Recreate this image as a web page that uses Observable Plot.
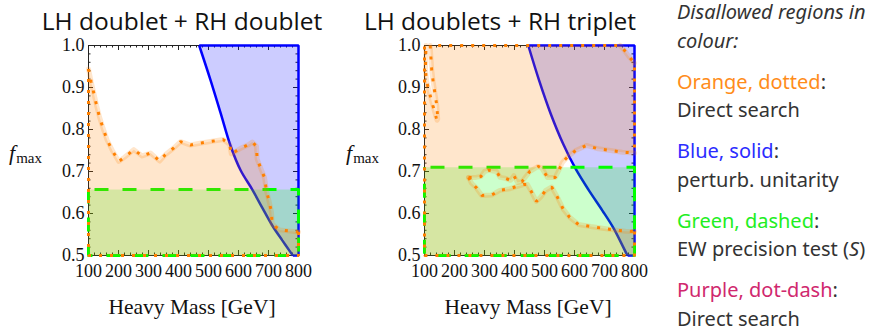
<!DOCTYPE html>
<html><head><meta charset="utf-8">
<script src="https://cdn.jsdelivr.net/npm/d3@7"></script>
<script src="https://cdn.jsdelivr.net/npm/@observablehq/plot@0.6"></script>
<style>
body{margin:0;background:#fff;width:882px;height:326px;overflow:hidden;position:relative;font-family:"Noto Sans",sans-serif}
.abs{position:absolute;white-space:nowrap}
.title{font-family:"Open Sans","Noto Sans",sans-serif;font-size:24.5px;color:#111;line-height:25px;text-align:center;width:310px}
.ylab{font-family:"Liberation Serif",serif;color:#111;line-height:20px}
.xlab{font-family:"Liberation Serif",serif;font-size:21.5px;color:#111;line-height:22px;text-align:center;width:220px}
.legend{font-size:20px;color:#333;line-height:28.5px}
.legend p{margin:0 0 12.5px 0}
</style></head><body>
<div id="p1" class="abs" style="left:0;top:0"></div>
<div id="p2" class="abs" style="left:336px;top:0"></div>
<div class="abs title" style="left:27px;top:8px">LH doublet + RH doublet</div>
<div class="abs title" style="left:345px;top:8px">LH doublets + RH triplet</div>
<div class="abs ylab" style="left:9px;top:143px"><span style="font-style:italic;font-size:22px">f</span><span style="font-size:15px;position:relative;top:3px;left:1px">max</span></div>
<div class="abs ylab" style="left:346px;top:143px"><span style="font-style:italic;font-size:22px">f</span><span style="font-size:15px;position:relative;top:3px;left:1px">max</span></div>
<div class="abs xlab" style="left:82px;top:296px">Heavy Mass [GeV]</div>
<div class="abs xlab" style="left:418px;top:296px">Heavy Mass [GeV]</div>
<div class="abs legend" style="left:677px;top:-2px">
<p><i>Disallowed regions in<br>colour:</i></p>
<p><span style="color:#ff8c1a">Orange, dotted</span>:<br>Direct search</p>
<p><span style="color:#2b2bff">Blue, solid</span>:<br>perturb. unitarity</p>
<p><span style="color:#22ee22">Green, dashed</span>:<br>EW precision test (<i>S</i>)</p>
<p><span style="color:#d0286e">Purple, dot-dash</span>:<br>Direct search</p>
</div>
<script>
// ---- tick labels ----
const xTickLabels = [100, 200, 300, 400, 500, 600, 700, 800];
const yTickLabels = [0.5, 0.6, 0.7, 0.8, 0.9, 1.0];

// ---- panel 1: LH doublet + RH doublet ----
const p1DirectSearch = [
  [100,0.944],[109,0.913],[118,0.886],[127,0.857],[137,0.829],[149,0.802],[162,0.775],
  [181,0.748],[201,0.724],[220,0.734],[251,0.752],[279,0.737],[307,0.744],[337,0.725],
  [356,0.740],[384,0.756],[407,0.771],[440,0.763],[476,0.768],[512,0.772],[549,0.776],
  [571,0.764],[576,0.742],[604,0.754],[634,0.764],[646,0.770],[660,0.760],[662,0.730],
  [673,0.710],[687,0.685],[693,0.655],[702,0.629],[710,0.603],[712,0.575],[737,0.561],
  [773,0.558],[800,0.556]
];
const p1Unitarity = [
  [469,1.0],[507,0.917],[540,0.840],[573,0.762],[607,0.703],[646,0.657],[679,0.614],
  [712,0.572],[746,0.536],[776,0.505],[781,0.5]
];
const p1EWLimit = 0.657;

// ---- panel 2: LH doublets + RH triplet ----
const p2Unitarity = [
  [446,1.0],[482,0.917],[521,0.837],[562,0.766],[604,0.706],[648,0.655],[693,0.607],
  [731,0.564],[773,0.505],[777,0.5]
];
const p2EWLimit = 0.71;
// boundary of the direct-search allowed pocket (upper and lower edges, left to right)
const p2UpperEdge = [
  [247,0.686],[272,0.686],[288,0.688],[300,0.700],[313,0.703],[340,0.700],[352,0.686],
  [368,0.684],[387,0.679],[398,0.690],[410,0.674],[425,0.676],[451,0.700],[479,0.712],
  [491,0.708],[510,0.686],[536,0.686],[548,0.703],[560,0.722],[576,0.734],[604,0.750],
  [640,0.762],[679,0.754],[720,0.750],[759,0.746],[800,0.744]
];
const p2LowerEdge = [
  [247,0.686],[257,0.672],[272,0.662],[291,0.643],[324,0.644],[351,0.655],[385,0.659],
  [401,0.663],[431,0.669],[443,0.669],[454,0.655],[473,0.629],[487,0.639],[504,0.655],
  [524,0.663],[543,0.639],[562,0.611],[584,0.591],[613,0.574],[654,0.569],[693,0.565],
  [731,0.561],[770,0.558],[800,0.557]
];
// narrow allowed sliver at low mass (top edge, down left side, up right side)
const p2Sliver = [
  [105,1.0],[103,0.942],[107,0.915],[117,0.886],[128,0.857],[139,0.829],[142,0.822],
  [144,0.825],[141,0.857],[135,0.885],[129,0.913],[124,0.942],[119,1.0]
];
// allowed corner at top right (top edge to right edge)
const p2Corner = [[752,1.0],[765,0.99],[780,0.975],[792,0.965],[800,0.958]];

// ---- styling ----
const BLUE = "#0000ff", GREEN = "#00ff00", ORANGE = "#ff8000";
const W = 330, H = 326, ML = 88, MR = 32, MT = 45, MB = 71;
const FW = W - ML - MR, FH = H - MT - MB;
const X0 = 100, X1 = 800, Y0 = 0.5, Y1 = 1.0;

const xMinor = d3.range(X0, X1 + 1, 20).filter(v => v % 100 !== 0);
const yMinor = d3.range(50, 101, 2).filter(v => v % 10 !== 0).map(v => v / 100);

const px = d => d[0], py = d => d[1];
const fillPoly = (poly, color) => Plot.line(poly, {x: px, y: py, fill: color, fillOpacity: 0.2, stroke: "none", curve: "linear"});
const blueLine = (path, curve = "linear") => Plot.line(path, {x: px, y: py, stroke: BLUE, strokeWidth: 2.5, strokeLinecap: "butt", strokeLinejoin: "miter", curve});
const strokeDashed = (path) => Plot.line(path, {x: px, y: py, stroke: GREEN, strokeWidth: 3, strokeDasharray: "14,14", strokeDashoffset: 22, strokeLinecap: "butt"});
const strokeHalo = (path) => Plot.line(path, {x: px, y: py, stroke: ORANGE, strokeOpacity: 0.2, strokeWidth: 5, strokeLinejoin: "round"});
const strokeDotted = (path) => Plot.line(path, {x: px, y: py, stroke: ORANGE, strokeWidth: 3, strokeDasharray: "3,8", strokeLinecap: "butt", strokeLinejoin: "miter"});

function blueRegion(curvePts) {
  const first = curvePts[0], last = curvePts[curvePts.length - 1];
  return [
    Plot.areaX(curvePts, {y: py, x1: px, x2: X1, fill: BLUE, fillOpacity: 0.2, curve: "catmull-rom"}),
    blueLine(curvePts, "catmull-rom"),
    blueLine([first, [X1, Y1], [X1, Y0], last])
  ];
}

function frameMarks() {
  const maj = 5, mnr = 2.5, st = {stroke: "#222", strokeWidth: 1};
  return [
    Plot.ruleX(xTickLabels, {...st, insetTop: FH - maj}),
    Plot.ruleX(xTickLabels, {...st, insetBottom: FH - maj}),
    Plot.ruleX(xMinor, {...st, insetTop: FH - mnr}),
    Plot.ruleX(xMinor, {...st, insetBottom: FH - mnr}),
    Plot.ruleY(yTickLabels, {...st, insetRight: FW - maj}),
    Plot.ruleY(yTickLabels, {...st, insetLeft: FW - maj}),
    Plot.ruleY(yMinor, {...st, insetRight: FW - mnr}),
    Plot.ruleY(yMinor, {...st, insetLeft: FW - mnr}),
    Plot.axisX({ticks: xTickLabels, tickSize: 0, tickPadding: 9, tickFormat: d => String(d), label: null, fontSize: 18, fontFamily: "Liberation Serif", fill: "#111"}),
    Plot.axisY({ticks: yTickLabels, tickSize: 0, tickPadding: 4, tickFormat: d => d.toFixed(1), label: null, fontSize: 18, fontFamily: "Liberation Serif", fill: "#111"})
  ];
}

function makePlot(marks) {
  return Plot.plot({
    width: W, height: H, marginLeft: ML, marginRight: MR, marginTop: MT, marginBottom: MB,
    x: {domain: [X0, X1]}, y: {domain: [Y0, Y1]},
    style: {fontFamily: "Liberation Serif", fontSize: "18px", background: "transparent", overflow: "visible"},
    marks
  });
}

// panel 1
{
  const greenPoly = [[X0, Y0], [X0, p1EWLimit], [X1, p1EWLimit], [X1, Y0]];
  const greenPath = [[X0, p1EWLimit], [X1, p1EWLimit], [X1, Y0], [X0, Y0], [X0, p1EWLimit]];
  const orangePoly = [[X0, Y0], ...p1DirectSearch, [X1, Y0]];
  const orangeOuter = [[X1, p1DirectSearch[p1DirectSearch.length - 1][1]], [X1, Y0], [X0, Y0], [X0, p1DirectSearch[0][1]]];
  const marks = [
    Plot.frame({stroke: "#222", strokeWidth: 1}),
    ...frameMarks(),
    ...blueRegion(p1Unitarity),
    fillPoly(greenPoly, GREEN),
    strokeDashed(greenPath),
    fillPoly(orangePoly, ORANGE),
    strokeHalo(p1DirectSearch),
    strokeDotted(p1DirectSearch),
    strokeDotted(orangeOuter)
  ];
  document.getElementById("p1").appendChild(makePlot(marks));
}

// panel 2
{
  const greenPoly = [[X0, Y0], [X0, p2EWLimit], [X1, p2EWLimit], [X1, Y0]];
  const greenPath = [[X0, p2EWLimit], [X1, p2EWLimit], [X1, Y0], [X0, Y0], [X0, p2EWLimit]];
  const split = 3; // lower-edge vertex where the orange fill is divided in two
  const lowerLeft = p2LowerEdge.slice(0, split + 1);
  const lowerRight = p2LowerEdge.slice(split);
  const orangeA = [[X0, Y0], [X0, Y1], ...p2Sliver, ...p2Corner, ...[...p2UpperEdge].reverse(), ...lowerLeft, [lowerLeft[lowerLeft.length - 1][0], Y0]];
  const orangeB = [[lowerRight[0][0], Y0], ...lowerRight, [X1, Y0]];
  const outer = [[X1, p2LowerEdge[p2LowerEdge.length - 1][1]], [X1, Y0], [X0, Y0], [X0, Y1], ...p2Sliver, ...p2Corner, [X1, p2UpperEdge[p2UpperEdge.length - 1][1]]];
  const marks = [
    Plot.frame({stroke: "#222", strokeWidth: 1}),
    ...frameMarks(),
    ...blueRegion(p2Unitarity),
    fillPoly(greenPoly, GREEN),
    strokeDashed(greenPath),
    fillPoly(orangeA, ORANGE),
    fillPoly(orangeB, ORANGE),
    strokeHalo(p2UpperEdge),
    strokeHalo(p2LowerEdge),
    strokeHalo(p2Sliver),
    strokeHalo(p2Corner),
    strokeDotted(p2UpperEdge),
    strokeDotted(p2LowerEdge),
    strokeDotted(outer)
  ];
  document.getElementById("p2").appendChild(makePlot(marks));
}
</script>
</body></html>
